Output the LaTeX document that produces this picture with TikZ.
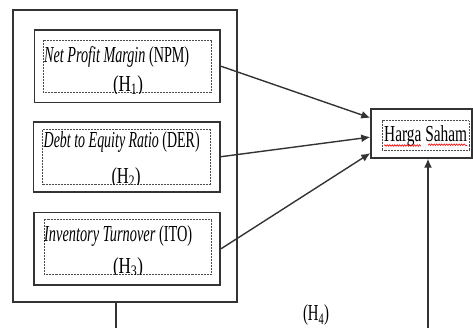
\documentclass[tikz,border=0pt]{standalone}
\usepackage{fontspec}
\setmainfont{Liberation Serif}
\usetikzlibrary{arrows.meta,decorations.pathmorphing}
% squeeze a text to a given width, height unchanged
\newcommand{\squeezeto}[2]{\resizebox{#1}{\height}{#2}}

\begin{document}
\begin{tikzpicture}[x=1bp,y=-1bp,>={Latex[length=9pt,width=8pt]},
	frame/.style={draw=black!80,line width=1.7pt,inner sep=0pt},
	dotframe/.style={draw=black!70,line width=0.9pt,dash pattern=on 0.9pt off 0.6pt,inner sep=0pt},
	vartext/.style={inner sep=0pt,text=black,font=\fontsize{23}{28}\selectfont},
	link/.style={->,draw=black!80,line width=1.4pt}]
	\useasboundingbox (0,0) rectangle (473,328);
% outer box
	\node[frame,line width=1.3pt,minimum width=224bp,minimum height=292bp] (outer) at (125,156) {};
% NPM
	\node[frame,minimum width=185.7bp,minimum height=72.3bp] (npm) at (127.2,66.2) {};
	\node[dotframe,minimum width=168.7bp,minimum height=52.7bp] (npmdot) at (127.4,66.4) {};
	\begin{scope}
		\clip (npmdot.north west) rectangle (npmdot.south east);
		\node[vartext,anchor=base west] (npmtext) at (44,62.7)
			{\squeezeto{145bp}{\textit{Net Profit Margin} (NPM)}};
		\node[vartext,anchor=base] (h1) at (128,91) {\squeezeto{30bp}{(H\textsubscript{1})}};
	\end{scope}
% DER
	\node[frame,minimum width=186.7bp,minimum height=70bp] (der) at (126.7,156.7) {};
	\node[dotframe,minimum width=168bp,minimum height=55bp] (derdot) at (126.7,156.8) {};
	\begin{scope}
		\clip (derdot.north west) rectangle (derdot.south east);
		\node[vartext,anchor=base west] (dertext) at (43.5,147.7)
			{\squeezeto{156bp}{\textit{Debt to Equity Ratio} (DER)}};
		\node[vartext,anchor=base] (h2) at (126,183) {\squeezeto{29bp}{(H\textsubscript{2})}};
	\end{scope}
% ITO
	\node[frame,minimum width=186bp,minimum height=72.7bp] (ito) at (127.3,248.7) {};
	\node[dotframe,minimum width=167.7bp,minimum height=55bp] (itodot) at (127.9,246.8) {};
	\begin{scope}
		\clip (itodot.north west) rectangle (itodot.south east);
		\node[vartext,anchor=base west] (itotext) at (44,241)
			{\squeezeto{148bp}{\textit{Inventory Turnover} (ITO)}};
		\node[vartext,anchor=base] (h3) at (128,273) {\squeezeto{30bp}{(H\textsubscript{3})}};
	\end{scope}
% Harga Saham
	\node[frame,line width=1.5pt,minimum width=101bp,minimum height=49bp] (harga) at (421.5,133.5) {};
	\node[dotframe,minimum width=87bp,minimum height=29.3bp] (hargadot) at (425.5,135.4) {};
	\node[vartext,anchor=base west] (hargatext) at (384,141.7) {\squeezeto{83bp}{Harga Saham}};
	\draw[red,line width=0.6pt,decorate,decoration={snake,amplitude=0.8pt,segment length=2.5pt}]
		(384,145.5) -- (420,145.5) (428,145.5) -- (467,145.5);
% arrows
	\draw[link] (npm.east) -- (harga.163);
	\draw[link] (der.east) -- (harga.184);
	\draw[link] (ito.east) -- (harga.201);
% H4
	\coordinate (obase) at (116,328);
	\coordinate (hbase) at (428,328);
	\draw[draw=black!80,line width=1.3pt] (obase |- outer.south) -- (obase);
	\draw[link] (hbase) -- (hbase |- harga.south);
	\node[vartext,anchor=base] (h4) at (316,320.5) {\squeezeto{26bp}{(H\textsubscript{4})}};
\end{tikzpicture}
\end{document}
